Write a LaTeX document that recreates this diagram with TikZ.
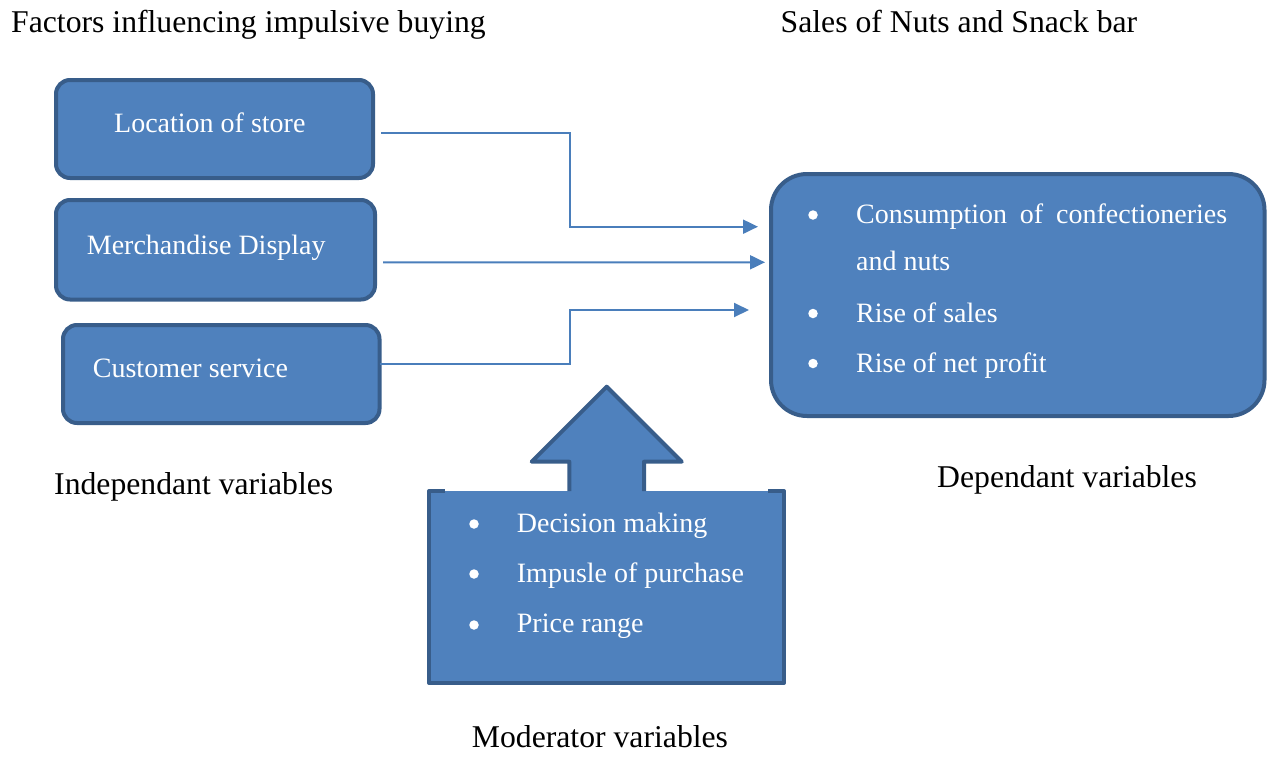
\documentclass[tikz,border=0pt]{standalone}
\usepackage{fontspec}
\setmainfont{Liberation Serif}
\usetikzlibrary{arrows.meta}
\definecolor{boxfill}{HTML}{4F81BD}
\definecolor{boxline}{HTML}{385D8A}
\definecolor{connline}{HTML}{4A7EBB}

\tikzset{
  ibox/.style={draw=boxline, fill=boxfill, line width=4pt, rounded corners=14pt, inner sep=0pt, outer sep=0pt},
  btext/.style={text=white, font=\fontsize{28}{32}\selectfont, inner sep=0pt, anchor=base west},
  bulletmark/.style={circle, fill=white, inner sep=0pt, minimum size=9.5pt},
  heading/.style={text=black, font=\fontsize{31.7}{36}\selectfont, inner sep=0pt, anchor=base west},
  conn/.style={draw=connline, line width=2pt, -{Triangle[length=15pt,width=14pt]}},
}

\begin{document}
\begin{tikzpicture}[x=1pt,y=-1pt]
\useasboundingbox (0,0) rectangle (1270,756);

% headings and captions
\node[heading] (factors) at (11,32) {Factors influencing impulsive buying};
\node[heading] (sales) at (780.5,32) {Sales of Nuts and Snack bar};
\node[heading] (indep) at (54,494) {Independant variables};
\node[heading] (depcap) at (937,487) {Dependant variables};
\node[heading] (modcap) at (471.7,747.7) {Moderator variables};

% independent variables
\node[ibox, minimum width=317pt, minimum height=98pt] (loc) at (214.5,129) {};
\node[ibox, minimum width=319pt, minimum height=99.5pt] (merch) at (215.5,249.75) {};
\node[ibox, minimum width=316.5pt, minimum height=98pt] (cust) at (221.25,374) {};
\node[btext] (loctxt) at (114,132.5) {Location of store};
\node[btext] (merchtxt) at (86.7,254) {Merchandise Display};
\node[btext] (custtxt) at (92.7,377) {Customer service};

% dependent variables
\node[ibox, rounded corners=36pt, minimum width=493.5pt, minimum height=242pt] (dep) at (1017.75,295) {};
\node[bulletmark] (db1) at (813,215) {};
\node[btext] (d1) at (856,223.5) {\hbox to 371pt{Consumption\hfil of\hfil confectioneries}};
\node[btext] (d1b) at (856,270.5) {and nuts};
\node[bulletmark] (db2) at (813,313.5) {};
\node[btext] (d2) at (856,322) {Rise of sales};
\node[bulletmark] (db3) at (813,363.5) {};
\node[btext] (d3) at (856,372) {Rise of net profit};

% connectors into the dependent box
\coordinate (in1) at (758,226.7);
\coordinate (in2) at (765,262.3);
\coordinate (in3) at (749,310);
\draw[conn] ([shift={(8,4.3)}]loc.east) -- (570,133.3) |- (in1);
\draw[conn] ([shift={(8,12.5)}]merch.east) -- (in2);
\draw[conn] ([shift={(0,-10)}]cust.east) -- (570,364) |- (in3);

% moderator variables
\node[fill=boxfill, inner sep=0pt, outer sep=0pt, minimum width=355pt, minimum height=192pt] (mod) at (606.5,587) {};
\draw[boxline, line width=4pt, line join=round]
  ([xshift=16pt]mod.north west) -- (mod.north west) -- (mod.south west)
  -- (mod.south east) -- (mod.north east) -- ([xshift=-16pt]mod.north east);
\draw[boxline, fill=boxfill, line width=4pt, line join=round]
  (569.3,491) -- (569.3,461.7) -- (531.7,461.7) -- (606.7,386.7)
  -- (681.7,461.7) -- (644,461.7) -- (644,491);
\node[bulletmark] (mb1) at (474,524) {};
\node[btext] (m1) at (516.7,532) {Decision making};
\node[bulletmark] (mb2) at (474,574) {};
\node[btext] (m2) at (516.7,582) {Impusle of purchase};
\node[bulletmark] (mb3) at (474,625) {};
\node[btext] (m3) at (516.7,632.5) {Price range};
\end{tikzpicture}
\end{document}
